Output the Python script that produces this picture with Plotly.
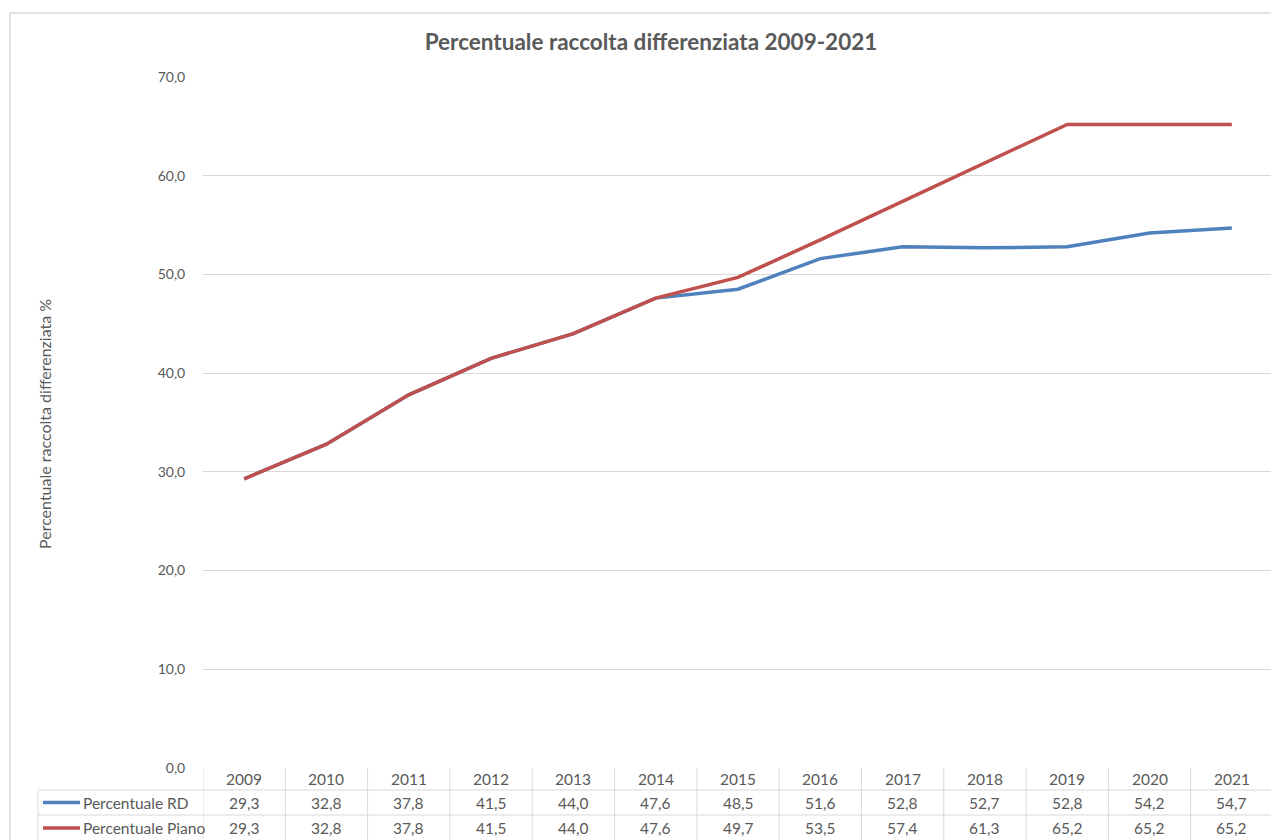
import plotly.graph_objects as go

years = ["2009", "2010", "2011", "2012", "2013", "2014", "2015", "2016", "2017", "2018", "2019", "2020", "2021"]
rd = [29.3, 32.8, 37.8, 41.5, 44.0, 47.6, 48.5, 51.6, 52.8, 52.7, 52.8, 54.2, 54.7]
piano = [29.3, 32.8, 37.8, 41.5, 44.0, 47.6, 49.7, 53.5, 57.4, 61.3, 65.2, 65.2, 65.2]
series_names = ["Percentuale RD", "Percentuale Piano"]
series_colors = ["#4f81bd", "#c0504d"]
title = "Percentuale raccolta differenziata 2009-2021"
ytitle = "Percentuale raccolta differenziata %"

OFF = 8  # page body margin
W, H = 1279 - OFF, 840 - OFF
L, R, T, B = 203 - OFF, 1273 - OFF, 77 - OFF, 768 - OFF
FONT = "Lato, 'Open Sans', sans-serif"
TXT = "#595959"
GRID = "#d9d9d9"


def py(p):
    return (B - (p - OFF)) / (B - T)


def px(p):
    return ((p - OFF) - L) / (R - L)


idx = list(range(len(years)))
fig = go.Figure()
for name, vals, col in zip(series_names, [rd, piano], series_colors):
    fig.add_trace(go.Scatter(x=idx, y=vals, mode="lines", name=name,
                             line=dict(color=col, width=3.5), showlegend=False,
                             cliponaxis=False))

shapes = []
annotations = []
# outer frame
shapes.append(dict(type="line", xref="paper", yref="paper", x0=px(10), x1=px(1290), y0=py(13), y1=py(13),
                   line=dict(color="#d9d9d9", width=1.5)))
shapes.append(dict(type="line", xref="paper", yref="paper", x0=px(10), x1=px(10), y0=py(13), y1=py(850),
                   line=dict(color="#d9d9d9", width=1.5)))
# table horizontal lines
for yy in [790, 815]:
    shapes.append(dict(type="line", xref="paper", yref="paper", x0=px(38), x1=1, y0=py(yy), y1=py(yy),
                       line=dict(color=GRID, width=1)))
# table vertical lines
shapes.append(dict(type="line", xref="paper", yref="paper", x0=px(38), x1=px(38), y0=py(790), y1=py(845),
                   line=dict(color=GRID, width=1)))
for i in range(len(years) + 1):
    xv = i - 0.5
    shapes.append(dict(type="line", xref="x", yref="paper", x0=xv, x1=xv, y0=0, y1=py(845),
                       line=dict(color=GRID, width=1)))

TFS = 15.5
# header years
for i, yr in enumerate(years):
    annotations.append(dict(x=i, y=py(779), xref="x", yref="paper", text=yr, showarrow=False,
                            xanchor="center", yanchor="middle",
                            font=dict(family=FONT, size=TFS, color=TXT)))
for vals, name, col, rowy in zip([rd, piano], series_names, series_colors, [802.5, 828]):
    for i, v in enumerate(vals):
        annotations.append(dict(x=i, y=py(rowy), xref="x", yref="paper",
                                text=f"{v:.1f}".replace(".", ","), showarrow=False,
                                xanchor="center", yanchor="middle",
                                font=dict(family=FONT, size=TFS, color=TXT)))
    shapes.append(dict(type="line", xref="paper", yref="paper", x0=px(43), x1=px(80), y0=py(rowy), y1=py(rowy),
                       line=dict(color=col, width=3.5)))
    annotations.append(dict(x=px(81), y=py(rowy), xref="paper", yref="paper", text=name, showarrow=False,
                            xanchor="left", yanchor="middle",
                            font=dict(family=FONT, size=TFS, color=TXT)))

# y-axis title
annotations.append(dict(x=px(44), y=py(424), xref="paper", yref="paper", text=ytitle, showarrow=False,
                        xanchor="center", yanchor="middle", textangle=-90,
                        font=dict(family=FONT, size=16, color=TXT)))

fig.update_layout(
    width=W, height=H,
    margin=dict(l=L, r=W - R, t=T, b=H - B, pad=0),
    paper_bgcolor="white", plot_bgcolor="white",
    title=dict(text=f"<b>{title}</b>", xref="container", x=(651 - OFF) / W, xanchor="center",
               yref="container", y=1 - (42 - OFF) / H, yanchor="middle",
               font=dict(family=FONT, size=22.5, color=TXT)),
    xaxis=dict(range=[-0.5, len(years) - 0.5], showticklabels=False, showgrid=False, zeroline=False,
               showline=False, ticks=""),
    yaxis=dict(range=[0, 70], dtick=10, tickformat=".1f", showgrid=True, gridcolor=GRID,
               gridwidth=1, zeroline=False, showline=False, ticks="outside", ticklen=14, tickcolor="white",
               tickfont=dict(family=FONT, size=14, color=TXT)),
    separators=",.",
    shapes=shapes, annotations=annotations,
)
fig.write_html("out.html")
